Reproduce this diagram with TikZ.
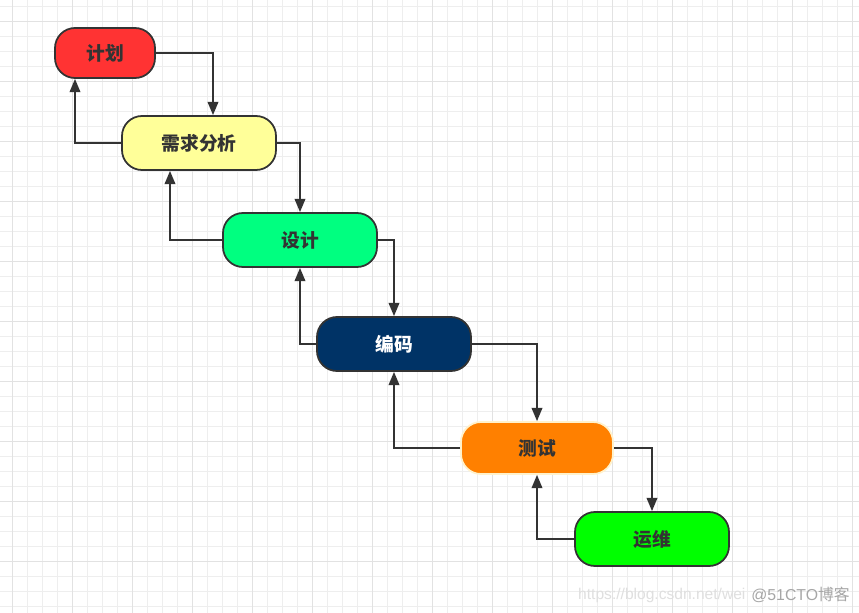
\documentclass[tikz,border=0pt]{standalone}
\usepackage{fontspec}
\newfontfamily\cjk{Noto Sans CJK SC}
\setsansfont{Liberation Sans}
\usetikzlibrary{arrows.meta,calc}
\definecolor{edgegray}{HTML}{333333}
\definecolor{planred}{HTML}{FF3333}
\definecolor{reqyellow}{HTML}{FFFF99}
\definecolor{designgreen}{HTML}{00FF80}
\definecolor{codeblue}{HTML}{003366}
\definecolor{testorange}{HTML}{FF8000}
\definecolor{testrim}{HTML}{FFF2CC}
\definecolor{opsgreen}{HTML}{00FF00}
\definecolor{gridminor}{HTML}{EEEEEE}
\definecolor{gridmajor}{HTML}{E2E2E2}
\begin{document}
\begin{tikzpicture}[
      x=0.03cm, y=-0.03cm,
      font=\cjk\bfseries\fontsize{16}{19}\selectfont,
      phase/.style={draw=edgegray, line width=1.5pt, rounded corners=0.6cm,
                    minimum width=4.62cm, minimum height=1.62cm,
                    text=edgegray, inner sep=0pt},
      flow/.style={draw=edgegray, line width=1.5pt,
                   -{Triangle[length=0.4cm, width=0.32cm]}}
    ]
    \useasboundingbox (0,0) rectangle (859,613);
    \fill[white] (0,0) rectangle (859,613);

    % Background grid.
    \foreach \gx in {12,27,...,852}
      \draw[gridminor, line width=0.6pt] (\gx,0) -- (\gx,613);
    \foreach \gy in {6,21,...,606}
      \draw[gridminor, line width=0.6pt] (0,\gy) -- (859,\gy);
    \foreach \gx in {12,72,...,852}
      \draw[gridmajor, line width=0.6pt] (\gx,0) -- (\gx,613);
    \foreach \gy in {21,81,...,561}
      \draw[gridmajor, line width=0.6pt] (0,\gy) -- (859,\gy);

    % Phases of the waterfall.
    \node[phase, fill=planred, minimum width=3cm, minimum height=1.5cm]
      (plan) at (105,53) {计划};
    \node[phase, fill=reqyellow] (require) at (199,143) {需求分析};
    \node[phase, fill=designgreen] (design) at (300,240) {设计};
    \node[phase, fill=codeblue, text=white] (code) at (394,344) {编码};
    \node[phase, fill=testorange, draw=testrim, minimum width=4.56cm,
          minimum height=1.56cm] (test) at (537,448) {测试};
    \node[phase, fill=opsgreen] (ops) at (652,539) {运维};

    % Forward and backward steps.
    \draw[flow] (plan.east) -| ($(require.north)+(14,0)$);
    \draw[flow] (require.west) -| ($(plan.south)+(-30,0)$);
    \draw[flow] (require.east) -| (design.north);
    \draw[flow] (design.west) -| ($(require.south)+(-29,0)$);
    \draw[flow] (design.east) -| (code.north);
    \draw[flow] (code.west) -| (design.south);
    \draw[flow] (code.east) -| (test.north);
    \draw[flow] (test.west) -| (code.south);
    \draw[flow] (test.east) -| (ops.north);
    \draw[flow] (ops.west) -| (test.south);

    % Watermark.
    \node[anchor=west, font=\sffamily\fontsize{13.3}{15}\selectfont,
          text=gray!25, inner sep=0pt] (url) at (578,595)
      {https://blog.csdn.net/wei};
    \node[anchor=east, font=\sffamily\fontsize{13.5}{15}\selectfont,
          text=gray!70, inner sep=0pt] (mark) at (850,595)
      {@51CTO{\cjk 博客}};
  \end{tikzpicture}
\end{document}
